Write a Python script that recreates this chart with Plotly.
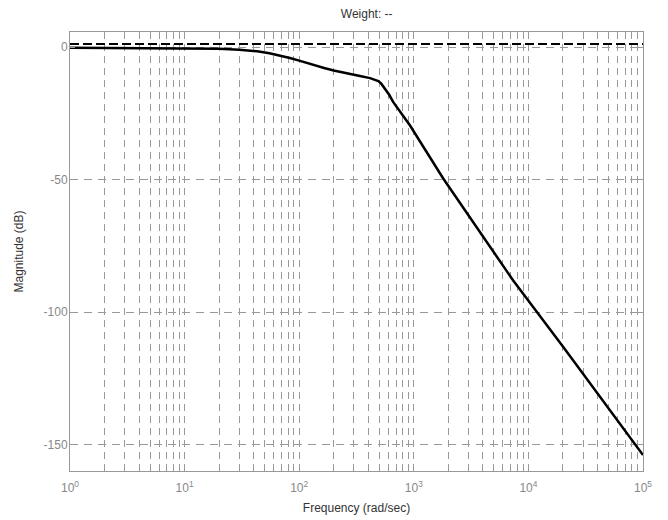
import plotly.graph_objects as go

# Data
freq = [1, 10, 20, 30, 43, 55, 68, 83, 100, 133, 165, 200, 262, 339, 415, 459,
        490, 520, 562, 610, 660, 800, 927, 1800, 7340, 20000, 100000]
mag_db = [-0.2, -0.3, -0.6, -1.0, -1.6, -2.3, -3.1, -4.1, -5.1, -6.8, -7.9, -8.8,
          -10.0, -10.9, -11.7, -12.2, -12.8, -13.8, -15.7, -18.0, -20.7, -25.6,
          -29.6, -49.5, -88.0, -113.0, -154.0]
weight_freq = [1, 100000]
weight_db = [1.2, 1.2]

decades = [1, 10, 100, 1000, 10000, 100000]
x_tickvals = []
x_ticktext = []
for d in decades:
    for m in range(1, 10):
        v = d * m
        if v > 100000:
            break
        x_tickvals.append(v)
        x_ticktext.append("10<sup>%d</sup>" % len(str(d)[1:]) if m == 1 else "")
y_tickvals = [0, -50, -100, -150]
y_ticktext = ["0", "-50", "-100", "-150"]

fig = go.Figure()
fig.add_trace(go.Scatter(x=weight_freq, y=weight_db, mode="lines",
                         line=dict(color="black", width=2, dash="9px,4px"),
                         showlegend=False))
fig.add_trace(go.Scatter(x=freq, y=mag_db, mode="lines",
                         line=dict(color="black", width=2.5),
                         showlegend=False))

font_family = "Liberation Sans, Arial, sans-serif"
fig.update_layout(
    width=668, height=520,
    margin=dict(l=62, r=33, t=24, b=57),
    paper_bgcolor="white", plot_bgcolor="white",
    font=dict(family=font_family, size=12, color="#333"),
    title=dict(text="Weight: --", x=0.537, xanchor="center", y=0.988, yanchor="middle",
               font=dict(size=12, color="#333")),
    xaxis=dict(type="log", range=[0, 5], tickvals=x_tickvals, ticktext=x_ticktext,
               ticks="inside", ticklen=5, tickcolor="#999",
               showline=True, linecolor="#999", linewidth=1, mirror="allticks",
               showgrid=True, gridcolor="#999", gridwidth=1, griddash="7px,5px",
               zeroline=False, automargin=False, ticklabelstandoff=6,
               tickfont=dict(size=12, color="#888"),
               title=dict(text="Frequency (rad/sec)", font=dict(size=12, color="#333"),
                          standoff=9)),
    yaxis=dict(range=[-160, 5.7], tickvals=y_tickvals, ticktext=y_ticktext,
               ticks="inside", ticklen=5, tickcolor="#999",
               showline=True, linecolor="#999", linewidth=1, mirror="allticks",
               showgrid=True, gridcolor="#999", gridwidth=1, griddash="8px,6px",
               zeroline=False, automargin=False, ticklabelstandoff=-1,
               tickfont=dict(size=12, color="#888"),
               title=dict(text="Magnitude (dB)", font=dict(size=12, color="#333"),
                          standoff=17)),
)

fig.write_html("out.html")
